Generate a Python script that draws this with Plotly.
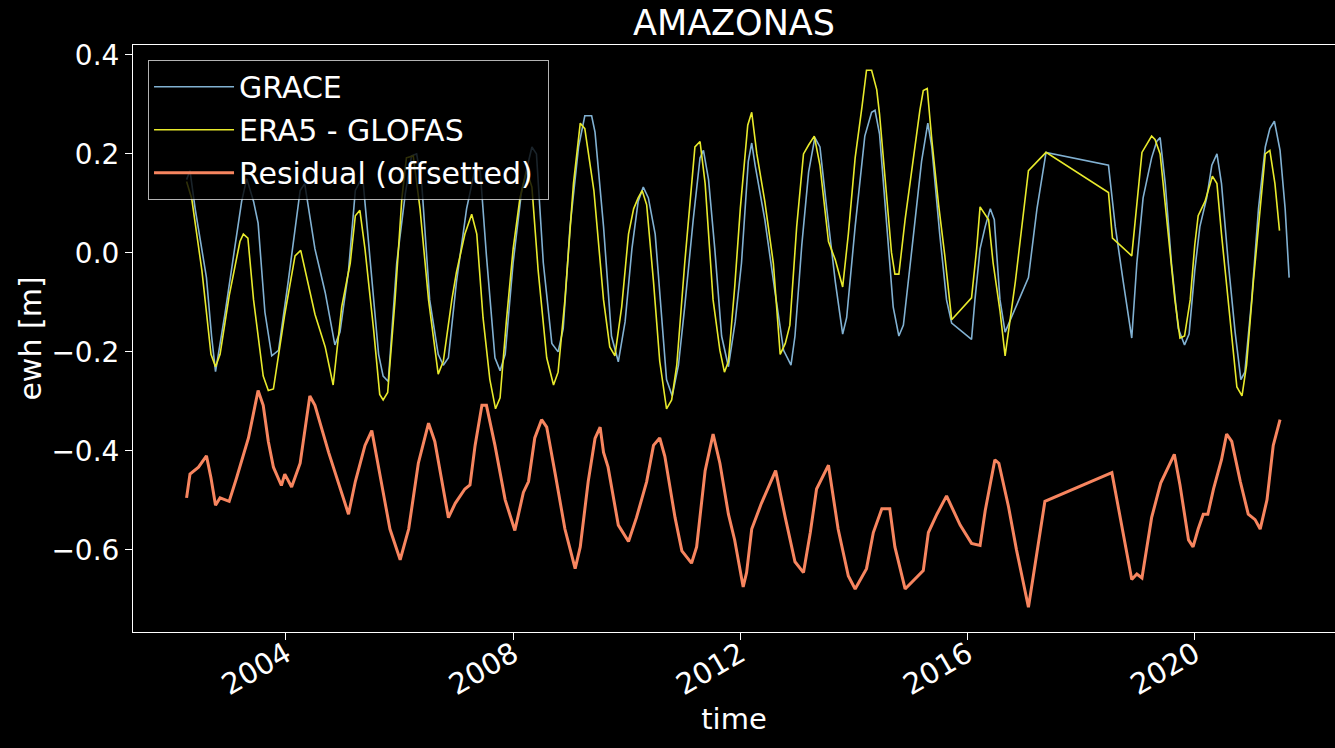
import datetime as dt
import plotly.graph_objects as go

# ---- data (decimal years, values in m) ----
grace_t = [2002.25, 2002.31, 2002.40, 2002.60, 2002.69, 2002.76, 2002.93, 2003.10, 2003.22, 2003.31,
           2003.43, 2003.51, 2003.63, 2003.75, 2003.87, 2004.04, 2004.25, 2004.33, 2004.51, 2004.69,
           2004.86, 2004.95, 2005.10, 2005.22, 2005.30, 2005.36, 2005.48, 2005.63, 2005.71, 2005.80,
           2005.95, 2006.10, 2006.21, 2006.30, 2006.39, 2006.53, 2006.68, 2006.77, 2006.86, 2007.00,
           2007.18, 2007.33, 2007.42, 2007.53, 2007.68, 2007.77, 2007.86, 2008.00, 2008.15, 2008.33,
           2008.41, 2008.53, 2008.68, 2008.79, 2008.88, 2009.00, 2009.15, 2009.26, 2009.38, 2009.44,
           2009.59, 2009.73, 2009.85, 2009.97, 2010.09, 2010.20, 2010.29, 2010.38, 2010.50, 2010.61,
           2010.70, 2010.80, 2010.91, 2011.02, 2011.17, 2011.29, 2011.35, 2011.44, 2011.55, 2011.67,
           2011.79, 2011.91, 2012.02, 2012.14, 2012.20, 2012.26, 2012.43, 2012.61, 2012.76, 2012.89,
           2012.96, 2013.08, 2013.20, 2013.31, 2013.40, 2013.52, 2013.67, 2013.80, 2013.87, 2014.02,
           2014.19, 2014.31, 2014.37, 2014.45, 2014.55, 2014.69, 2014.79, 2014.87, 2015.02, 2015.19,
           2015.30, 2015.37, 2015.51, 2015.63, 2015.72, 2016.07, 2016.13, 2016.22, 2016.31, 2016.40,
           2016.47, 2016.57, 2016.66, 2016.84, 2017.07, 2017.22, 2017.38, 2018.48, 2018.60, 2018.74,
           2018.89, 2018.98, 2019.09, 2019.24, 2019.33, 2019.39, 2019.48, 2019.59, 2019.71, 2019.82,
           2019.90, 2020.00, 2020.09, 2020.21, 2020.30, 2020.39, 2020.47, 2020.59, 2020.71, 2020.81,
           2020.88, 2021.00, 2021.12, 2021.24, 2021.32, 2021.40, 2021.50, 2021.59, 2021.66]
grace_v = [0.148, 0.166, 0.09, -0.05, -0.168, -0.24, -0.12, 0.008, 0.104, 0.15,
           0.104, 0.06, -0.12, -0.208, -0.197, -0.058, 0.126, 0.14, 0.008, -0.08,
           -0.186, -0.16, -0.036, 0.126, 0.144, 0.14, -0.021, -0.205, -0.249, -0.26,
           -0.02, 0.119, 0.196, 0.2, 0.14, -0.095, -0.205, -0.227, -0.212, -0.06,
           0.089, 0.17, 0.166, -0.006, -0.212, -0.238, -0.205, -0.02, 0.126, 0.214,
           0.2, -0.02, -0.183, -0.2, -0.153, 0.053, 0.214, 0.277, 0.277, 0.244,
           0.053, -0.168, -0.22, -0.139, 0.008, 0.104, 0.133, 0.111, 0.038, -0.131,
           -0.256, -0.289, -0.227, -0.109, 0.067, 0.192, 0.207, 0.148, 0.008, -0.168,
           -0.23, -0.139, -0.021, 0.185, 0.222, 0.177, 0.067, -0.08, -0.197, -0.227,
           -0.168, 0.016, 0.163, 0.233, 0.214, 0.089, -0.058, -0.164, -0.131, 0.053,
           0.236, 0.284, 0.288, 0.24, 0.089, -0.109, -0.168, -0.146, 0.008, 0.185,
           0.262, 0.214, 0.038, -0.095, -0.142, -0.175, -0.095, 0.008, 0.053, 0.089,
           0.067, -0.095, -0.16, -0.11, -0.05, 0.089, 0.203, 0.177, 0.053, -0.058,
           -0.172, -0.021, 0.111, 0.192, 0.225, 0.233, 0.14, -0.021, -0.153, -0.186,
           -0.164, -0.036, 0.053, 0.111, 0.177, 0.2, 0.14, -0.021, -0.161, -0.256,
           -0.241, -0.095, 0.089, 0.214, 0.251, 0.266, 0.207, 0.089, -0.05]

era5_t = [2002.25, 2002.34, 2002.52, 2002.68, 2002.76, 2002.84, 2003.00, 2003.19, 2003.25, 2003.33,
          2003.43, 2003.60, 2003.69, 2003.78, 2003.98, 2004.16, 2004.26, 2004.45, 2004.51, 2004.69,
          2004.83, 2004.98, 2005.13, 2005.22, 2005.30, 2005.39, 2005.54, 2005.65, 2005.71, 2005.79,
          2005.92, 2006.04, 2006.12, 2006.24, 2006.36, 2006.51, 2006.68, 2006.77, 2006.92, 2007.00,
          2007.15, 2007.27, 2007.36, 2007.47, 2007.59, 2007.69, 2007.77, 2007.88, 2008.00, 2008.12,
          2008.24, 2008.33, 2008.44, 2008.59, 2008.71, 2008.79, 2008.91, 2009.06, 2009.18, 2009.26,
          2009.42, 2009.59, 2009.70, 2009.79, 2009.91, 2010.03, 2010.12, 2010.20, 2010.27, 2010.35,
          2010.47, 2010.58, 2010.70, 2010.79, 2010.88, 2011.02, 2011.14, 2011.20, 2011.29, 2011.38,
          2011.52, 2011.64, 2011.72, 2011.79, 2011.90, 2012.00, 2012.13, 2012.20, 2012.29, 2012.43,
          2012.58, 2012.70, 2012.79, 2012.87, 2012.99, 2013.11, 2013.20, 2013.30, 2013.40, 2013.55,
          2013.67, 2013.80, 2013.90, 2014.02, 2014.14, 2014.22, 2014.31, 2014.40, 2014.45, 2014.55,
          2014.66, 2014.72, 2014.79, 2014.90, 2015.05, 2015.16, 2015.22, 2015.29, 2015.37, 2015.49,
          2015.60, 2015.72, 2016.07, 2016.16, 2016.22, 2016.37, 2016.45, 2016.57, 2016.66, 2016.75,
          2016.84, 2017.07, 2017.38, 2018.48, 2018.55, 2018.89, 2019.07, 2019.24, 2019.30, 2019.39,
          2019.53, 2019.65, 2019.74, 2019.82, 2019.92, 2020.00, 2020.06, 2020.18, 2020.31, 2020.39,
          2020.47, 2020.59, 2020.74, 2020.83, 2020.91, 2021.03, 2021.15, 2021.24, 2021.32, 2021.41,
          2021.49]
era5_v = [0.144, 0.11, -0.036, -0.205, -0.23, -0.205, -0.087, 0.023, 0.038, 0.03,
          -0.095, -0.249, -0.278, -0.275, -0.124, -0.006, 0.005, -0.095, -0.124, -0.19,
          -0.267, -0.109, -0.021, 0.075, 0.086, 0.008, -0.153, -0.286, -0.297, -0.282,
          -0.095, 0.11, 0.192, 0.196, 0.089, -0.095, -0.245, -0.219, -0.095, -0.04,
          0.038, 0.078, 0.038, -0.131, -0.256, -0.315, -0.293, -0.139, 0.008, 0.111,
          0.166, 0.133, -0.036, -0.212, -0.267, -0.241, -0.095, 0.14, 0.262, 0.251,
          0.126, -0.095, -0.19, -0.208, -0.109, 0.038, 0.089, 0.111, 0.126, 0.097,
          -0.058, -0.219, -0.315, -0.297, -0.227, -0.021, 0.126, 0.214, 0.225, 0.14,
          -0.095, -0.197, -0.241, -0.219, -0.07, 0.09, 0.258, 0.284, 0.2, 0.104,
          -0.021, -0.205, -0.183, -0.146, 0.053, 0.2, 0.218, 0.236, 0.177, 0.023,
          -0.014, -0.069, 0.038, 0.192, 0.295, 0.369, 0.369, 0.33, 0.28, 0.148,
          0.001, -0.043, -0.043, 0.067, 0.2, 0.288, 0.328, 0.332, 0.229, 0.097,
          -0.006, -0.135, -0.091, 0.008, 0.093, 0.067, -0.021, -0.117, -0.208, -0.131,
          -0.058, 0.166, 0.203, 0.122, 0.03, -0.006, 0.203, 0.236, 0.229, 0.2,
          0.038, -0.095, -0.172, -0.168, -0.095, 0.016, 0.075, 0.104, 0.155, 0.14,
          0.038, -0.095, -0.271, -0.289, -0.227, -0.058, 0.089, 0.2, 0.207, 0.14,
          0.045]

resid_t = [2002.25, 2002.31, 2002.46, 2002.60, 2002.68, 2002.76, 2002.84, 2002.92, 2003.00, 2003.13,
           2003.28, 2003.34, 2003.51, 2003.60, 2003.69, 2003.78, 2003.92, 2003.98, 2004.10, 2004.25,
           2004.42, 2004.51, 2004.75, 2004.92, 2005.10, 2005.22, 2005.39, 2005.51, 2005.68, 2005.83,
           2006.01, 2006.16, 2006.33, 2006.51, 2006.62, 2006.74, 2006.86, 2006.98, 2007.15, 2007.24,
           2007.33, 2007.45, 2007.53, 2007.68, 2007.86, 2008.03, 2008.18, 2008.27, 2008.38, 2008.50,
           2008.59, 2008.74, 2008.91, 2009.09, 2009.18, 2009.32, 2009.44, 2009.53, 2009.59, 2009.67,
           2009.85, 2010.03, 2010.17, 2010.35, 2010.47, 2010.58, 2010.67, 2010.85, 2010.97, 2011.14,
           2011.23, 2011.38, 2011.52, 2011.64, 2011.79, 2011.90, 2012.05, 2012.11, 2012.20, 2012.37,
           2012.62, 2012.79, 2012.96, 2013.11, 2013.23, 2013.34, 2013.55, 2013.72, 2013.90, 2014.02,
           2014.22, 2014.34, 2014.49, 2014.63, 2014.72, 2014.90, 2015.22, 2015.31, 2015.46, 2015.63,
           2015.87, 2016.07, 2016.22, 2016.31, 2016.48, 2016.55, 2016.72, 2016.86, 2017.07, 2017.36,
           2018.54, 2018.89, 2018.98, 2019.07, 2019.24, 2019.40, 2019.53, 2019.64, 2019.74, 2019.89,
           2019.97, 2020.06, 2020.15, 2020.23, 2020.33, 2020.47, 2020.56, 2020.65, 2020.80, 2020.94,
           2021.06, 2021.15, 2021.27, 2021.38, 2021.50]
resid_v = [-0.495, -0.447, -0.433, -0.41, -0.455, -0.51, -0.495, -0.499, -0.502, -0.455,
           -0.396, -0.374, -0.278, -0.308, -0.381, -0.433, -0.47, -0.447, -0.473, -0.425,
           -0.289, -0.308, -0.403, -0.462, -0.528, -0.462, -0.389, -0.359, -0.462, -0.558,
           -0.62, -0.558, -0.425, -0.344, -0.381, -0.462, -0.535, -0.506, -0.477, -0.469,
           -0.389, -0.308, -0.308, -0.389, -0.499, -0.561, -0.484, -0.462, -0.374, -0.337,
           -0.352, -0.447, -0.558, -0.638, -0.594, -0.462, -0.375, -0.352, -0.403, -0.433,
           -0.55, -0.583, -0.535, -0.462, -0.389, -0.374, -0.411, -0.535, -0.602, -0.627,
           -0.594, -0.44, -0.366, -0.425, -0.528, -0.58, -0.675, -0.646, -0.558, -0.506,
           -0.44, -0.535, -0.624, -0.646, -0.565, -0.477, -0.429, -0.558, -0.653, -0.679,
           -0.638, -0.565, -0.517, -0.517, -0.594, -0.679, -0.642, -0.565, -0.528, -0.491,
           -0.55, -0.587, -0.591, -0.521, -0.418, -0.425, -0.513, -0.6, -0.716, -0.502,
           -0.444, -0.66, -0.649, -0.657, -0.535, -0.465, -0.433, -0.407, -0.469, -0.58,
           -0.594, -0.558, -0.528, -0.528, -0.477, -0.418, -0.366, -0.381, -0.462, -0.528,
           -0.539, -0.558, -0.499, -0.389, -0.337]

x_ticks = [2004, 2008, 2012, 2016, 2020]
y_ticks = [-0.6, -0.4, -0.2, 0.0, 0.2, 0.4]
x_range = [2001.306, 2022.468]
y_range = [-0.766, 0.420]


def to_date(y):
    year = int(y)
    start = dt.datetime(year, 1, 1)
    days = (dt.datetime(year + 1, 1, 1) - start).total_seconds()
    return start + dt.timedelta(seconds=(y - year) * days)


FONT = "DejaVu Sans"
fig = go.Figure()
fig.add_trace(go.Scatter(x=[to_date(t) for t in grace_t], y=grace_v, mode="lines",
                         name="GRACE", legendgroup="g1",
                         line=dict(color="#81b1d2", width=1.6)))
fig.add_trace(go.Scatter(x=[to_date(t) for t in era5_t], y=era5_v, mode="lines",
                         name="ERA5 - GLOFAS", legendgroup="g2",
                         line=dict(color="#e8ea2c", width=1.6)))
fig.add_trace(go.Scatter(x=[to_date(t) for t in resid_t], y=resid_v, mode="lines",
                         name="Residual (offsetted)\u00a0", legendgroup="g3",
                         line=dict(color="#f7855f", width=3)))

fig.update_layout(
    width=1335, height=748,
    paper_bgcolor="black", plot_bgcolor="black",
    margin=dict(l=133, r=0, t=45, b=116),
    font=dict(family=FONT, color="white", size=28),
    title=dict(text="AMAZONAS", x=0.5, xref="paper", xanchor="center", y=0.97, yanchor="middle",
               font=dict(size=35, family=FONT, color="white")),
    showlegend=True,
    legend=dict(x=0.0125, y=0.975, xanchor="left", yanchor="top",
                bgcolor="rgba(0,0,0,0.8)", bordercolor="rgba(210,210,210,0.85)", borderwidth=1,
                font=dict(size=30, family=FONT, color="white"), tracegroupgap=1,
                itemwidth=80),
)

fig.update_xaxes(
    type="date",
    range=[to_date(x_range[0]), to_date(x_range[1])],
    tickmode="array",
    tickvals=[dt.datetime(y, 1, 1) for y in x_ticks],
    ticktext=[str(y) for y in x_ticks],
    tickangle=-30,
    ticklabelstandoff=-14,
    ticks="outside", ticklen=7, tickwidth=1, tickcolor="white",
    showline=True, linecolor="white", linewidth=1, mirror=True,
    showgrid=False, zeroline=False,
    tickfont=dict(size=29, family=FONT, color="white"),
    title=dict(text="time", font=dict(size=29, family=FONT, color="white"), standoff=4),
)
fig.update_yaxes(
    range=y_range,
    tickmode="array",
    tickvals=y_ticks,
    ticktext=[("\u2212" if v < 0 else "") + f"{abs(v):.1f}" for v in y_ticks],
    ticks="outside", ticklen=7, tickwidth=1, tickcolor="white",
    showline=True, linecolor="white", linewidth=1, mirror=False,
    showgrid=False, zeroline=False,
    tickfont=dict(size=28, family=FONT, color="white"),
    title=dict(text="ewh [m]", font=dict(size=30, family=FONT, color="white"), standoff=0),
)

fig.write_html(
    "out.html",
    config={"displayModeBar": False},
    post_script="document.body.style.margin='0px';document.body.style.background='black';",
)
